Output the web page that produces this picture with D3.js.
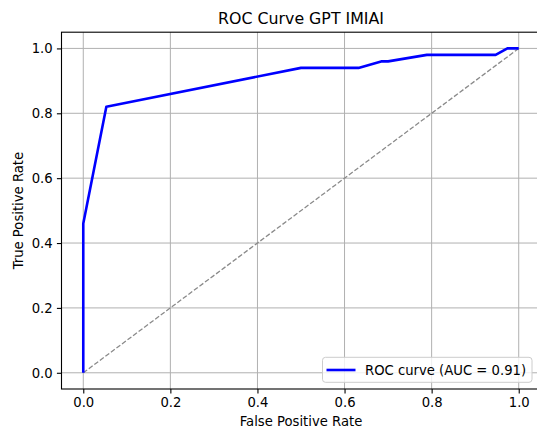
<!DOCTYPE html>
<html>
<head>
<meta charset="utf-8">
<script src="https://cdn.jsdelivr.net/npm/d3@7"></script>
<style>
  body { margin: 0; background: #fff; overflow: hidden; }
  svg { font-family: "DejaVu Sans", sans-serif; display: block; }
</style>
</head>
<body>
<div id="container"></div>
<script>
// ROC points
const fpr = [0, 0, 0.053, 0.5, 0.632, 0.684, 0.70, 0.789, 0.947, 0.974, 1.0];
const tpr = [0, 0.46, 0.82, 0.94, 0.94, 0.96, 0.96, 0.98, 0.98, 1.0, 1.0];
const chance = [0, 1];
const ticks = [0, 0.2, 0.4, 0.6, 0.8, 1.0];
const aucLabel = "ROC curve (AUC = 0.91)";

const width = 537;
const height = 430;
// the figure is cropped a bit on the right, so the right spine falls outside
const plot = { left: 61.5, right: 540.5, top: 32.2, bottom: 389 };

const svg = d3
  .select("#container")
  .append("svg")
  .attr("width", width)
  .attr("height", height);

const x = d3.scaleLinear().domain([-0.05, 1.05]).range([plot.left, plot.right]);
const y = d3.scaleLinear().domain([-0.05, 1.05]).range([plot.bottom, plot.top]);

// grid
const grid = svg.append("g");
grid.selectAll("line.gx").data(ticks).enter().append("line")
  .attr("x1", (d) => x(d)).attr("x2", (d) => x(d))
  .attr("y1", plot.top).attr("y2", plot.bottom)
  .attr("stroke", "#b0b0b0").attr("stroke-width", 1);
grid.selectAll("line.gy").data(ticks).enter().append("line")
  .attr("y1", (d) => y(d)).attr("y2", (d) => y(d))
  .attr("x1", plot.left).attr("x2", plot.right)
  .attr("stroke", "#b0b0b0").attr("stroke-width", 1);

// chance line
svg.append("path")
  .datum(chance.map((d) => [d, d]))
  .attr("d", d3.line().x((d) => x(d[0])).y((d) => y(d[1])))
  .attr("fill", "none")
  .attr("stroke", "#8a8a8a")
  .attr("stroke-width", 1.3)
  .attr("stroke-dasharray", "4.8,2.1");

// roc curve
svg.append("path")
  .datum(fpr.map((d, i) => [d, tpr[i]]))
  .attr("d", d3.line().x((d) => x(d[0])).y((d) => y(d[1])))
  .attr("fill", "none")
  .attr("stroke", "#0000ff")
  .attr("stroke-width", 2.6)
  .attr("stroke-linejoin", "round");

// axes
const fmt = d3.format(".1f");
const xAxis = svg.append("g")
  .attr("transform", `translate(0,${plot.bottom})`)
  .call(d3.axisBottom(x).tickValues(ticks).tickFormat(fmt).tickSize(4.6).tickPadding(4.2));
const yAxis = svg.append("g")
  .attr("transform", `translate(${plot.left},0)`)
  .call(d3.axisLeft(y).tickValues(ticks).tickFormat(fmt).tickSize(4.6).tickPadding(4.2));
[xAxis, yAxis].forEach((a) => {
  a.select(".domain").remove();
  a.selectAll("text").attr("font-size", 13.2).attr("fill", "#000").attr("font-family", "DejaVu Sans");
  a.selectAll("line").attr("stroke", "#000").attr("stroke-width", 1.1);
});

// frame
svg.append("rect")
  .attr("x", plot.left).attr("y", plot.top)
  .attr("width", plot.right - plot.left)
  .attr("height", plot.bottom - plot.top)
  .attr("fill", "none").attr("stroke", "#000").attr("stroke-width", 1.1);

// labels
const cx = (plot.left + plot.right) / 2;
svg.append("text")
  .attr("x", cx).attr("y", 24)
  .attr("text-anchor", "middle").attr("font-size", 15.8)
  .text("ROC Curve GPT IMIAI");
svg.append("text")
  .attr("x", cx).attr("y", 425.5)
  .attr("text-anchor", "middle").attr("font-size", 13.2)
  .text("False Positive Rate");
svg.append("text")
  .attr("transform", `translate(22.5,${(plot.top + plot.bottom) / 2}) rotate(-90)`)
  .attr("text-anchor", "middle").attr("font-size", 13.2)
  .text("True Positive Rate");

// legend
const legend = svg.append("g").attr("transform", "translate(322.5,357.3)");
legend.append("rect")
  .attr("width", 209.5).attr("height", 25).attr("rx", 3)
  .attr("fill", "#fff").attr("fill-opacity", 0.8)
  .attr("stroke", "#cccccc").attr("stroke-width", 1);
legend.append("line")
  .attr("x1", 4).attr("x2", 33).attr("y1", 12.7).attr("y2", 12.7)
  .attr("stroke", "#0000ff").attr("stroke-width", 2.6);
legend.append("text")
  .attr("x", 42.5).attr("y", 17.4).attr("font-size", 13.2)
  .text(aucLabel);
</script>
</body>
</html>
